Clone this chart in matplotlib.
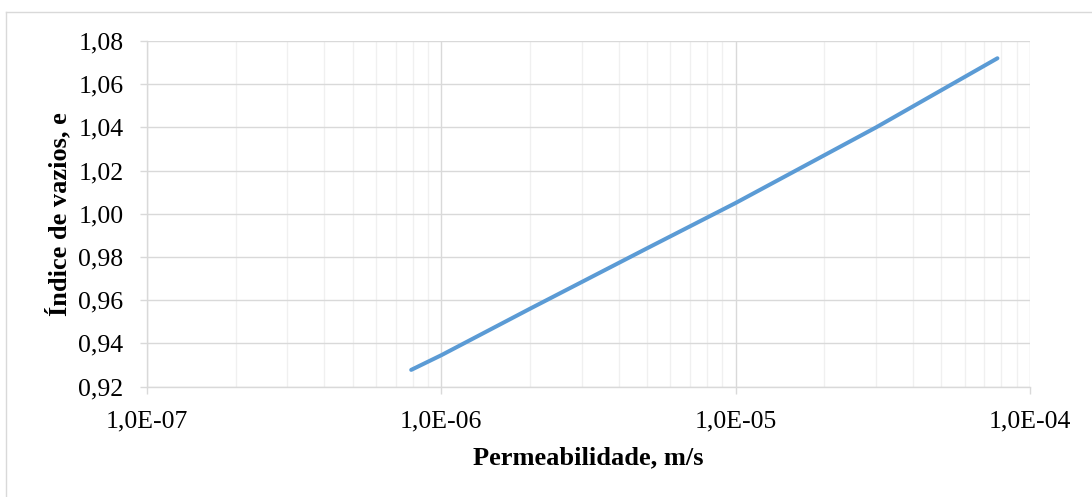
import matplotlib
matplotlib.use("Agg")
import matplotlib.pyplot as plt
from matplotlib.ticker import LogLocator, FixedLocator, NullFormatter, FuncFormatter
from matplotlib.lines import Line2D

# Permeability (m/s) and corresponding void ratio
permeabilidade = [7.9e-7, 1.0e-6, 2.0e-6, 5.0e-6, 1.0e-5, 3.0e-5, 7.75e-5]
indice_vazios = [0.9277, 0.9345, 0.9560, 0.9840, 1.0050, 1.0400, 1.0720]

y_ticks = [0.92, 0.94, 0.96, 0.98, 1.00, 1.02, 1.04, 1.06, 1.08]
x_ticks = [1e-7, 1e-6, 1e-5, 1e-4]
x_tick_labels = ["1,0E-07", "1,0E-06", "1,0E-05", "1,0E-04"]

plt.rcParams["font.family"] = ["Liberation Serif", "DejaVu Serif"]

W, H = 1092, 497
fig = plt.figure(figsize=(W / 100, H / 100), dpi=100)

# chart-area frame (left and top edges)
frame_col = "#d9d9d9"
fig.add_artist(Line2D([6 / W, 6 / W], [0, 1 - 12 / H], transform=fig.transFigure,
                      color=frame_col, lw=1.0))
fig.add_artist(Line2D([6 / W, 1], [1 - 12 / H, 1 - 12 / H], transform=fig.transFigure,
                      color=frame_col, lw=1.0))

left, right = 147 / W, 1030 / W
top, bottom = 1 - 41 / H, 1 - 386.5 / H
ax = fig.add_axes([left, bottom, right - left, top - bottom])

ax.plot(permeabilidade, indice_vazios, color="#5B9BD5", lw=2.9,
        solid_capstyle="round", zorder=3)

ax.set_xscale("log")
ax.set_xlim(1e-7, 1e-4)
ax.set_ylim(0.92, 1.08)

ax.xaxis.set_major_locator(FixedLocator(x_ticks))
ax.set_xticklabels(x_tick_labels)
ax.xaxis.set_minor_locator(LogLocator(base=10, subs=range(2, 10), numticks=20))
ax.xaxis.set_minor_formatter(NullFormatter())
ax.yaxis.set_major_locator(FixedLocator(y_ticks))
ax.yaxis.set_major_formatter(FuncFormatter(lambda v, p: f"{v:.2f}".replace(".", ",")))

ax.grid(which="major", color="#d9d9d9", lw=1.0, zorder=1)
ax.grid(which="minor", axis="x", color="#f0f0f0", lw=1.0, zorder=0)

for s in ["top", "right"]:
    ax.spines[s].set_visible(False)
for s in ["left", "bottom"]:
    ax.spines[s].set_color("#d9d9d9")
    ax.spines[s].set_linewidth(1.0)

ax.tick_params(axis="both", which="major", length=5, width=1.0, color="#d9d9d9",
               labelsize=18.5, labelcolor="black")
ax.tick_params(axis="x", which="major", pad=12)
ax.tick_params(axis="y", which="major", pad=12)
ax.tick_params(axis="x", which="minor", length=0)

ax.set_xlabel("Permeabilidade, m/s", fontsize=19, fontweight="bold", labelpad=10)
ax.set_ylabel("Índice de vazios, e", fontsize=19, fontweight="bold", labelpad=5)

fig.savefig("out.png", dpi=100)
